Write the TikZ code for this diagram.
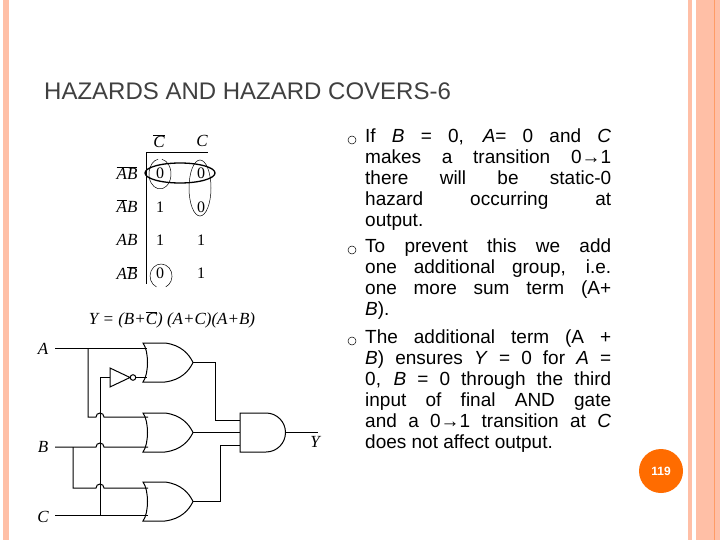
\documentclass[tikz,border=0pt]{standalone}
\usepackage{fontspec}
\setmainfont{Liberation Sans}
\newfontfamily\serifk{Liberation Serif}
\newcommand\ovl[1]{$\overline{\hbox{#1}}$}
\begin{document}
\begin{tikzpicture}[x=1pt,y=-1pt,
  wire/.style={line width=1pt},
  kt/.style={font=\serifk\fontsize{17}{17}\selectfont\itshape},
  kv/.style={font=\serifk\fontsize{16}{16}\selectfont},
  bul/.style={circle,draw=black,line width=0.5pt,minimum size=8pt,inner sep=0pt},
  txt/.style={anchor=north west,text width=246pt,align=justify,inner sep=0pt,font=\fontsize{19}{21}\selectfont}]
\useasboundingbox (0,0) rectangle (720,540);
\fill[white] (0,0) rectangle (720,540);
\fill[orange!25!pink!80!white] (3,0) rectangle (9,540);
\fill[orange!25!pink!80!white] (688,0) rectangle (692,540);
\fill[orange!25!pink!80!white] (696,0) rectangle (720,540);
\draw[orange!70!red!60!white,line width=0.6pt] (714,0) -- (714,540);
\node[anchor=base west,inner sep=0pt,text=black!75,font=\fontsize{24}{24}\selectfont] (title) at (44,100) {HAZARDS AND HAZARD COVERS-6};
% bullets
\node[bul] (b1) at (352,140) {};
\node[bul] (b2) at (352,250) {};
\node[bul] (b3) at (352,341) {};
\node[txt] (t1) at (365,129) {If \textit{B} = 0, \textit{A}= 0 and \textit{C}\linebreak makes a transition 0→1\linebreak there will be static-0\linebreak hazard occurring at\linebreak output.};
\node[txt] (t2) at (365,239) {To prevent this we add\linebreak one additional group, i.e.\linebreak one more sum term (A+\linebreak \textit{B}).};
\node[txt] (t3) at (365,330) {The additional term (A +\linebreak \textit{B}) ensures \textit{Y} = 0 for \textit{A} =\linebreak 0, \textit{B} = 0 through the third\linebreak input of final AND gate\linebreak and a 0→1 transition at \textit{C}\linebreak does not affect output.};
\node[circle,fill=orange!85!red,minimum size=44pt,inner sep=0pt,text=white,font=\bfseries\fontsize{12}{12}\selectfont] (pg) at (661,471) {119};
% K-map
\draw[line width=1pt] (146,153) -- (146,284);
\draw[line width=1pt] (146,153) -- (208,153);
\node[kt] (hc1) at (159,141) {\ovl{C}};
\node[kt] (hc2) at (202,141) {C};
\node[kt] (r1) at (127,173) {\ovl{A}\ovl{B}};
\node[kt] (r2) at (127,206) {\ovl{A}B};
\node[kt] (r3) at (127,240) {AB};
\node[kt] (r4) at (127,273) {A\ovl{B}};
\node[kv] (v11) at (160,173) {0};
\node[kv] (v12) at (201,173) {0};
\node[kv] (v21) at (160,207) {1};
\node[kv] (v22) at (201,207) {0};
\node[kv] (v31) at (160,240) {1};
\node[kv] (v32) at (201,240) {1};
\node[kv] (v41) at (160,273) {0};
\node[kv] (v42) at (201,273) {1};
\draw[line width=1.3pt] (180,173) ellipse (35 and 10);
\draw[line width=0.5pt] (161.9,159.2) arc (-80:260:11 and 15);
\draw[line width=0.5pt] (200,188) ellipse (11 and 28);
\draw[line width=0.5pt] (156.4,286.9) arc (115:425:11 and 12);
\node[kt] (eq) at (172,320) {Y = (B+\ovl{C}) (A+C)(A+B)};
% circuit
\node[kt] (lA) at (43,349) {A};
\node[kt] (lB) at (43,447) {B};
\node[kt] (lC) at (43,517) {C};
\node[kt] (lY) at (315,442) {Y};
\def\orgate#1#2#3{%
  \draw[wire] (#1,#2) .. controls (#1+6,#2+8) and (#1+6,#2+31) .. (#1,#2+39)
    -- (#1+22,#2+39) .. controls (#1+38,#2+37) and (#1+46,#2+28) .. (#1+50,#2+19.5)
    .. controls (#1+46,#2+11) and (#1+38,#2+2) .. (#1+22,#2) -- cycle;
  \coordinate (#3) at (#1+50,#2+19.5);}
\orgate{143}{343}{o1}
\orgate{143}{413}{o2}
\orgate{143}{482}{o3}
\draw[wire] (240,413) -- (266,413) arc (-90:90:19.5) -- (240,452) -- cycle;
\coordinate (and) at (285.5,432.5);
% NOT
\draw[wire] (110,368) -- (130,377.5) -- (110,387) -- cycle;
\draw[wire] (133,377.5) circle (2.8);
\coordinate (nin) at (110,377.5);
% wires
\draw[wire] (55,348) -- (147,348);
\draw[wire] (136,377.5) -- (147,377.5);
\draw[wire] (88,348) -- (88,417) -- (96,417) arc (180:360:4) -- (148,417);
\draw[wire] (55,447) -- (96,447) arc (180:360:4) -- (148,447);
\draw[wire] (73,447) -- (73,488) -- (96,488) arc (180:360:4) -- (148,488);
\draw[wire] (55,515) -- (148,515);
\draw[wire] (nin) -- (100,377.5) -- (100,515);
\draw[wire] (o1) -- (215,362.5) -- (215,420) -- (240,420);
\draw[wire] (o2) -- (240,432.5);
\draw[wire] (o3) -- (220,501.5) -- (220,445) -- (240,445);
\draw[wire] (and) -- (318,432.5);
\end{tikzpicture}
\end{document}
